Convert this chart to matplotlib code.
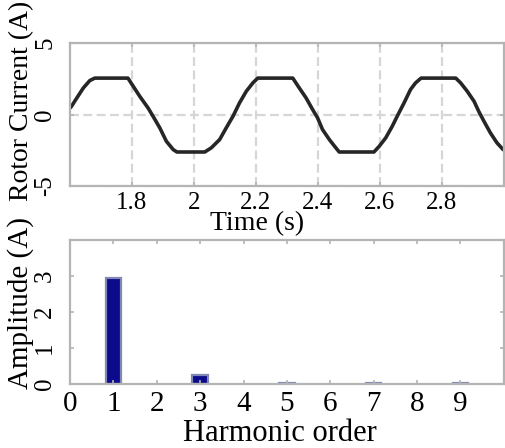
import numpy as np
import matplotlib
matplotlib.use("Agg")
import matplotlib.pyplot as plt

plt.rcParams["font.family"] = ["Liberation Serif", "DejaVu Serif"]
plt.rcParams["axes.unicode_minus"] = False

# rotor current (s, A)
time_s = [1.600, 1.605, 1.622, 1.643, 1.664, 1.680, 1.787, 1.804, 1.825, 1.852,
          1.868, 1.890, 1.911, 1.933, 1.945, 2.035, 2.056, 2.083, 2.104, 2.126,
          2.147, 2.169, 2.190, 2.206, 2.319, 2.340, 2.362, 2.383, 2.399, 2.415,
          2.437, 2.458, 2.469, 2.581, 2.598, 2.619, 2.640, 2.656, 2.678, 2.699,
          2.715, 2.733, 2.845, 2.861, 2.882, 2.904, 2.919, 2.936, 2.957, 2.978,
          3.000]
current_a = [0.45, 0.58, 1.16, 1.86, 2.38, 2.55, 2.55, 1.98, 1.28, 0.46,
             -0.12, -0.94, -1.87, -2.45, -2.62, -2.62, -2.33, -1.75, -0.94, -0.12,
             0.81, 1.63, 2.21, 2.55, 2.55, 1.86, 1.16, 0.35, -0.23, -1.05,
             -1.75, -2.33, -2.62, -2.62, -2.22, -1.63, -0.82, -0.12, 0.81, 1.75,
             2.21, 2.55, 2.55, 2.21, 1.63, 0.93, 0.23, -0.47, -1.29, -1.98,
             -2.50]

# harmonic spectrum
harm_order = [1, 3, 5, 7, 9]
harm_amp = [2.95, 0.25, 0.04, 0.04, 0.03]

time_ticks = [1.8, 2.0, 2.2, 2.4, 2.6, 2.8]
time_ticklabels = ["1.8", "2", "2.2", "2.4", "2.6", "2.8"]

spine_col = "#b4b4b4"

fig = plt.figure(figsize=(5.05, 4.48), dpi=100)
ax1 = fig.add_axes([0.1386, 0.5848, 0.859, 0.319])
ax2 = fig.add_axes([0.1386, 0.1429, 0.859, 0.3214])

# top: rotor current
ax1.plot(time_s, current_a, color="#262626", lw=2.6, solid_capstyle="butt")
ax1.set_xlim(1.6, 3.0)
ax1.set_ylim(-5, 5)
ax1.set_xticks(time_ticks)
ax1.set_xticklabels(time_ticklabels)
ax1.set_yticks([-5, 0, 5])
ax1.grid(True, color="#d6d6d6", lw=1.6, linestyle=(0, (4, 2)))
ax1.tick_params(axis="x", labelsize=18, pad=4)
ax1.tick_params(axis="y", labelsize=18, pad=10, labelrotation=90)
ax1.set_xlabel("Time (s)", fontsize=20)
ax1.xaxis.set_label_coords(0.431, -0.178)
ax1.set_ylabel("Rotor Current (A)", fontsize=20)
ax1.yaxis.set_label_coords(-0.082, 0.594)

# bottom: harmonic amplitudes
ax2.bar(harm_order, harm_amp, width=0.36, color="#0b0b8c",
        edgecolor="#8088b6", linewidth=1.6)
ax2.set_xlim(0, 10)
ax2.set_ylim(0, 4)
ax2.set_xticks(range(10))
ax2.set_yticks([0, 1, 2, 3])
ax2.tick_params(axis="x", labelsize=21, pad=5)
ax2.tick_params(axis="y", labelsize=18, pad=10, labelrotation=90)
ax2.set_xlabel("Harmonic order", fontsize=22)
ax2.xaxis.set_label_coords(0.484, -0.245)
ax2.set_ylabel("Amplitude (A)", fontsize=21)
ax2.yaxis.set_label_coords(-0.082, 0.56)

for ax in (ax1, ax2):
    for s in ax.spines.values():
        s.set_color(spine_col)
        s.set_linewidth(1.6)
    ax.tick_params(direction="in", length=3, width=1.2, color=spine_col,
                   top=True, right=True)
    for lab in ax.get_yticklabels():
        lab.set_va("center")

fig.savefig("out.png", dpi=100)
